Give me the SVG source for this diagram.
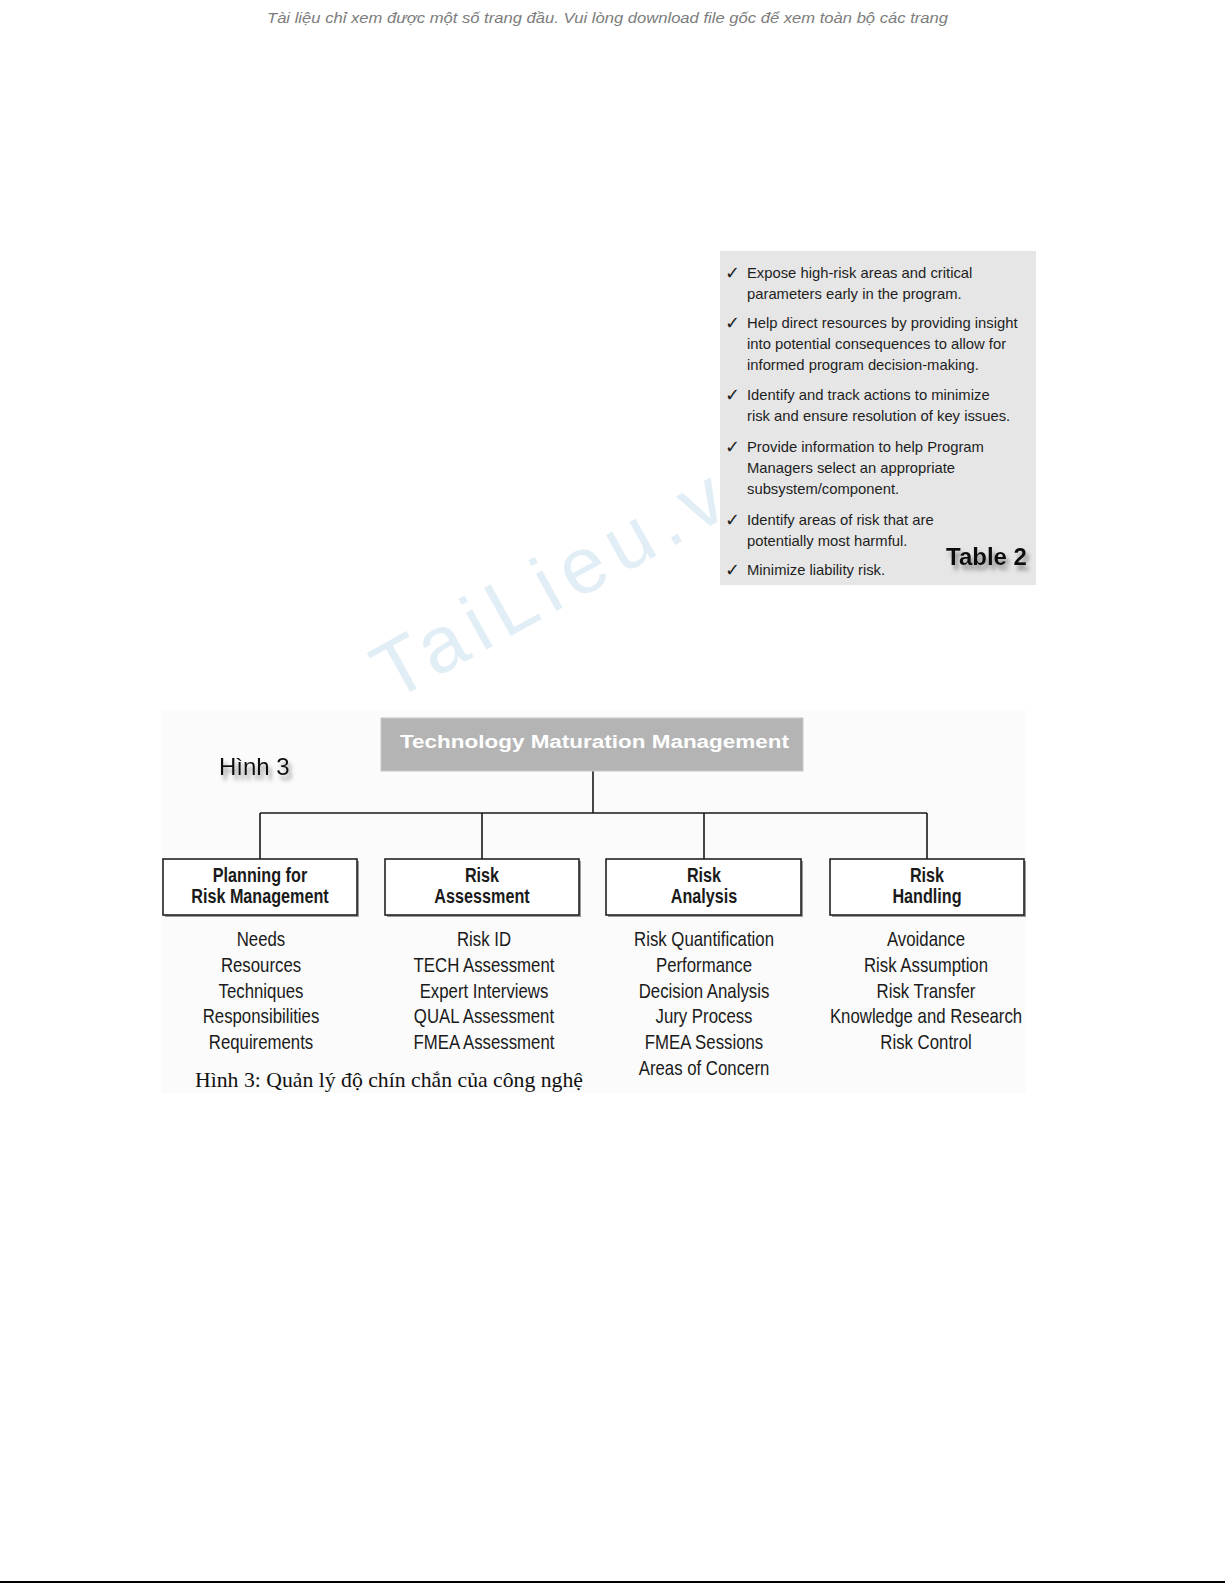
<svg xmlns="http://www.w3.org/2000/svg" width="1225" height="1585" viewBox="0 0 1225 1585">
<defs>
<style>
.banner{font-family:"Liberation Sans",Arial,sans-serif;font-style:italic;font-size:15px;fill:#7c7c7c}
.tbl{font-family:"Liberation Sans",Arial,sans-serif;font-size:14.8px;fill:#1e1e1e}
.chk{font-family:"DejaVu Sans",sans-serif;font-size:18px;font-weight:bold;fill:#1e1e1e}
.big{font-family:"Liberation Sans",Arial,sans-serif;fill:#111}
.hdr{font-family:"Liberation Sans",Arial,sans-serif;font-weight:bold;font-size:18px;fill:#ffffff}
.lbl{font-family:"Liberation Sans",Arial,sans-serif;font-weight:bold;font-size:19.5px;fill:#1a1a1a;text-anchor:middle}
.item{font-family:"Liberation Sans",Arial,sans-serif;font-size:20px;fill:#1a1a1a;text-anchor:middle}
.cap{font-family:"Liberation Serif","Times New Roman",serif;font-size:21px;fill:#111}
.box{fill:#ffffff;stroke:#222;stroke-width:1.6}
.shadow{fill:#9a9a9a}
.conn{stroke:#1a1a1a;stroke-width:1.6;fill:none}
.wm{font-family:"Liberation Sans",Arial,sans-serif;font-size:80px;fill:#e2eef6;letter-spacing:9px}
</style>
<filter id="ds" x="-20%" y="-30%" width="150%" height="180%">
<feDropShadow dx="3" dy="5" stdDeviation="2.2" flood-color="#777" flood-opacity="0.8"/>
</filter>
</defs>
<rect width="1225" height="1585" fill="#ffffff"/>
<text class="banner" x="267" y="23" textLength="681" lengthAdjust="spacingAndGlyphs">Tài liệu chỉ xem được một số trang đầu. Vui lòng download file gốc để xem toàn bộ các trang</text>

<!-- watermark -->
<text class="wm" x="392" y="702" transform="rotate(-29 392 702)">TaiLieu.vn</text>

<!-- Table 2 -->
<g id="table2">
<rect x="720" y="251" width="316" height="334" fill="#e6e6e6"/>
<g class="chk">
<text x="725" y="279">✓</text>
<text x="725" y="329">✓</text>
<text x="725" y="401">✓</text>
<text x="725" y="453">✓</text>
<text x="725" y="526">✓</text>
<text x="725" y="576">✓</text>
</g>
<g class="tbl">
<text x="747" y="278">Expose high-risk areas and critical</text>
<text x="747" y="299">parameters early in the program.</text>
<text x="747" y="328">Help direct resources by providing insight</text>
<text x="747" y="349">into potential consequences to allow for</text>
<text x="747" y="370">informed program decision-making.</text>
<text x="747" y="400">Identify and track actions to minimize</text>
<text x="747" y="421">risk and ensure resolution of key issues.</text>
<text x="747" y="452">Provide information to help Program</text>
<text x="747" y="473">Managers select an appropriate</text>
<text x="747" y="494">subsystem/component.</text>
<text x="747" y="525">Identify areas of risk that are</text>
<text x="747" y="546">potentially most harmful.</text>
<text x="747" y="575">Minimize liability risk.</text>
</g>
<text class="big" x="946" y="565" font-size="24" font-weight="bold" filter="url(#ds)">Table 2</text>
</g>

<!-- Figure background -->
<rect x="161" y="710" width="865" height="383" fill="#fbfbfb"/>
<text class="big" x="219" y="775" font-size="24" filter="url(#ds)">Hình 3</text>

<g id="connectors">
<path class="conn" d="M593 771 V813 M260 813 H927 M260 813 V859 M482 813 V859 M704 813 V859 M927 813 V859"/>
</g>

<g id="root">
<rect x="381" y="718" width="422" height="53" fill="#b4b4b4" stroke="#c8c8c8" stroke-width="1"/>
<text class="hdr" x="400" y="748" textLength="389" lengthAdjust="spacingAndGlyphs">Technology Maturation Management</text>
</g>

<g id="planning">
<rect class="shadow" x="165" y="861" width="194" height="56"/>
<rect class="box" x="163" y="859" width="194" height="56"/>
<g transform="matrix(0.83 0 0 1 260 0)">
<text class="lbl" x="0" y="882">Planning for</text>
<text class="lbl" x="0" y="903">Risk Management</text>
</g>
<g transform="matrix(0.84 0 0 1 261 0)">
<text class="item" x="0" y="946">Needs</text>
<text class="item" x="0" y="972">Resources</text>
<text class="item" x="0" y="998">Techniques</text>
<text class="item" x="0" y="1023">Responsibilities</text>
<text class="item" x="0" y="1049">Requirements</text>
</g>
</g>

<g id="assessment">
<rect class="shadow" x="387" y="861" width="194" height="56"/>
<rect class="box" x="385" y="859" width="194" height="56"/>
<g transform="matrix(0.83 0 0 1 482 0)">
<text class="lbl" x="0" y="882">Risk</text>
<text class="lbl" x="0" y="903">Assessment</text>
</g>
<g transform="matrix(0.84 0 0 1 484 0)">
<text class="item" x="0" y="946">Risk ID</text>
<text class="item" x="0" y="972">TECH Assessment</text>
<text class="item" x="0" y="998">Expert Interviews</text>
<text class="item" x="0" y="1023">QUAL Assessment</text>
<text class="item" x="0" y="1049">FMEA Assessment</text>
</g>
</g>

<g id="analysis">
<rect class="shadow" x="608" y="861" width="195" height="56"/>
<rect class="box" x="606" y="859" width="195" height="56"/>
<g transform="matrix(0.83 0 0 1 704 0)">
<text class="lbl" x="0" y="882">Risk</text>
<text class="lbl" x="0" y="903">Analysis</text>
</g>
<g transform="matrix(0.84 0 0 1 704 0)">
<text class="item" x="0" y="946">Risk Quantification</text>
<text class="item" x="0" y="972">Performance</text>
<text class="item" x="0" y="998">Decision Analysis</text>
<text class="item" x="0" y="1023">Jury Process</text>
<text class="item" x="0" y="1049">FMEA Sessions</text>
<text class="item" x="0" y="1075">Areas of Concern</text>
</g>
</g>

<g id="handling">
<rect class="shadow" x="832" y="861" width="194" height="56"/>
<rect class="box" x="830" y="859" width="194" height="56"/>
<g transform="matrix(0.83 0 0 1 927 0)">
<text class="lbl" x="0" y="882">Risk</text>
<text class="lbl" x="0" y="903">Handling</text>
</g>
<g transform="matrix(0.84 0 0 1 926 0)">
<text class="item" x="0" y="946">Avoidance</text>
<text class="item" x="0" y="972">Risk Assumption</text>
<text class="item" x="0" y="998">Risk Transfer</text>
<text class="item" x="0" y="1023">Knowledge and Research</text>
<text class="item" x="0" y="1049">Risk Control</text>
</g>
</g>

<text class="cap" x="195" y="1087" textLength="388" lengthAdjust="spacingAndGlyphs">Hình 3: Quản lý độ chín chắn của công nghệ</text>

<line x1="0" y1="1582" x2="1225" y2="1582" stroke="#000" stroke-width="2"/>
</svg>
